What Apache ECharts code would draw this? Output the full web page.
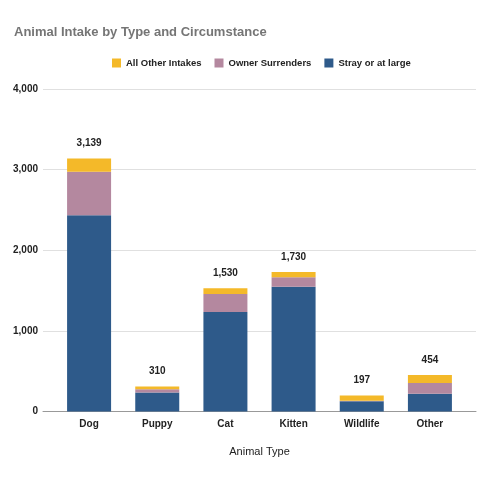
<!DOCTYPE html>
<html><head><meta charset="utf-8">
<script src="https://cdn.jsdelivr.net/npm/echarts@6/dist/echarts.min.js"></script>
<style>html,body{margin:0;padding:0;background:#fff}#c{width:480px;height:480px}</style>
</head><body><div id="c"></div>
<script>
const categories = ['Dog','Puppy','Cat','Kitten','Wildlife','Other'];
const stray = [2434, 236, 1234, 1548, 128, 220];
const owner = [541, 39, 224, 117, 6, 132];
const otherIntakes = [164, 35, 72, 65, 63, 102];
const totals = [3139, 310, 1530, 1730, 197, 454];
const yTicks = [0, 1000, 2000, 3000, 4000];

const chart = echarts.init(document.getElementById('c'));
const font = 'Arial, "Liberation Sans", sans-serif';
const yMin = yTicks[0], yMax = yTicks[yTicks.length-1];
chart.setOption({
  animation: false,
  title: {
    text: 'Animal Intake by Type and Circumstance',
    left: 9, top: 21,
    textStyle: {fontFamily: font, fontSize: 13, fontWeight: 'bold', color: '#757575'}
  },
  legend: {
    data: ['All Other Intakes', 'Owner Surrenders', 'Stray or at large'],
    top: 53, left: 107,
    itemWidth: 9, itemHeight: 9, itemGap: 13,
    icon: 'rect',
    textStyle: {fontFamily: font, fontSize: 9.5, fontWeight: 'bold', color: '#222'}
  },
  grid: [
    {left: 43, right: 4, top: 89, bottom: 68.5},
    {left: 55, right: 16, top: 89, bottom: 68.5}
  ],
  xAxis: [
    {type: 'category', gridIndex: 0, data: [''],
      name: 'Animal Type', nameLocation: 'middle', nameGap: 35,
      nameTextStyle: {fontFamily: font, fontSize: 11, color: '#222'},
      axisTick: {show: false}, axisLabel: {show: false},
      axisLine: {lineStyle: {color: '#999'}}},
    {type: 'category', gridIndex: 1, data: categories,
      axisTick: {show: false},
      axisLine: {show: false},
      axisLabel: {fontFamily: font, fontSize: 10, fontWeight: 'bold', color: '#222', margin: 8}}
  ],
  yAxis: [
    {type: 'value', gridIndex: 0, min: yMin, max: yMax, interval: 1000,
      axisLabel: {fontFamily: font, fontSize: 10, fontWeight: 'bold', color: '#222', margin: 5,
        formatter: v => v.toLocaleString('en-US')},
      splitLine: {lineStyle: {color: '#e0e0e0'}},
      axisLine: {show: false}, axisTick: {show: false}},
    {type: 'value', gridIndex: 1, min: yMin, max: yMax, interval: 1000,
      axisLabel: {show: false}, splitLine: {show: false},
      axisLine: {show: false}, axisTick: {show: false}}
  ],
  series: [
    {name: 'Stray or at large', type: 'bar', stack: 's', data: stray, barWidth: 44,
      xAxisIndex: 1, yAxisIndex: 1,
      itemStyle: {color: '#2E5A8A'}},
    {name: 'Owner Surrenders', type: 'bar', stack: 's', data: owner,
      xAxisIndex: 1, yAxisIndex: 1,
      itemStyle: {color: '#B4889F'}},
    {name: 'All Other Intakes', type: 'bar', stack: 's', data: otherIntakes,
      xAxisIndex: 1, yAxisIndex: 1,
      itemStyle: {color: '#F4B929'},
      label: {show: true, position: 'top', distance: 10,
        fontFamily: font, fontSize: 10, fontWeight: 'bold', color: '#222',
        formatter: p => totals[p.dataIndex].toLocaleString('en-US')}}
  ]
});
</script></body></html>
